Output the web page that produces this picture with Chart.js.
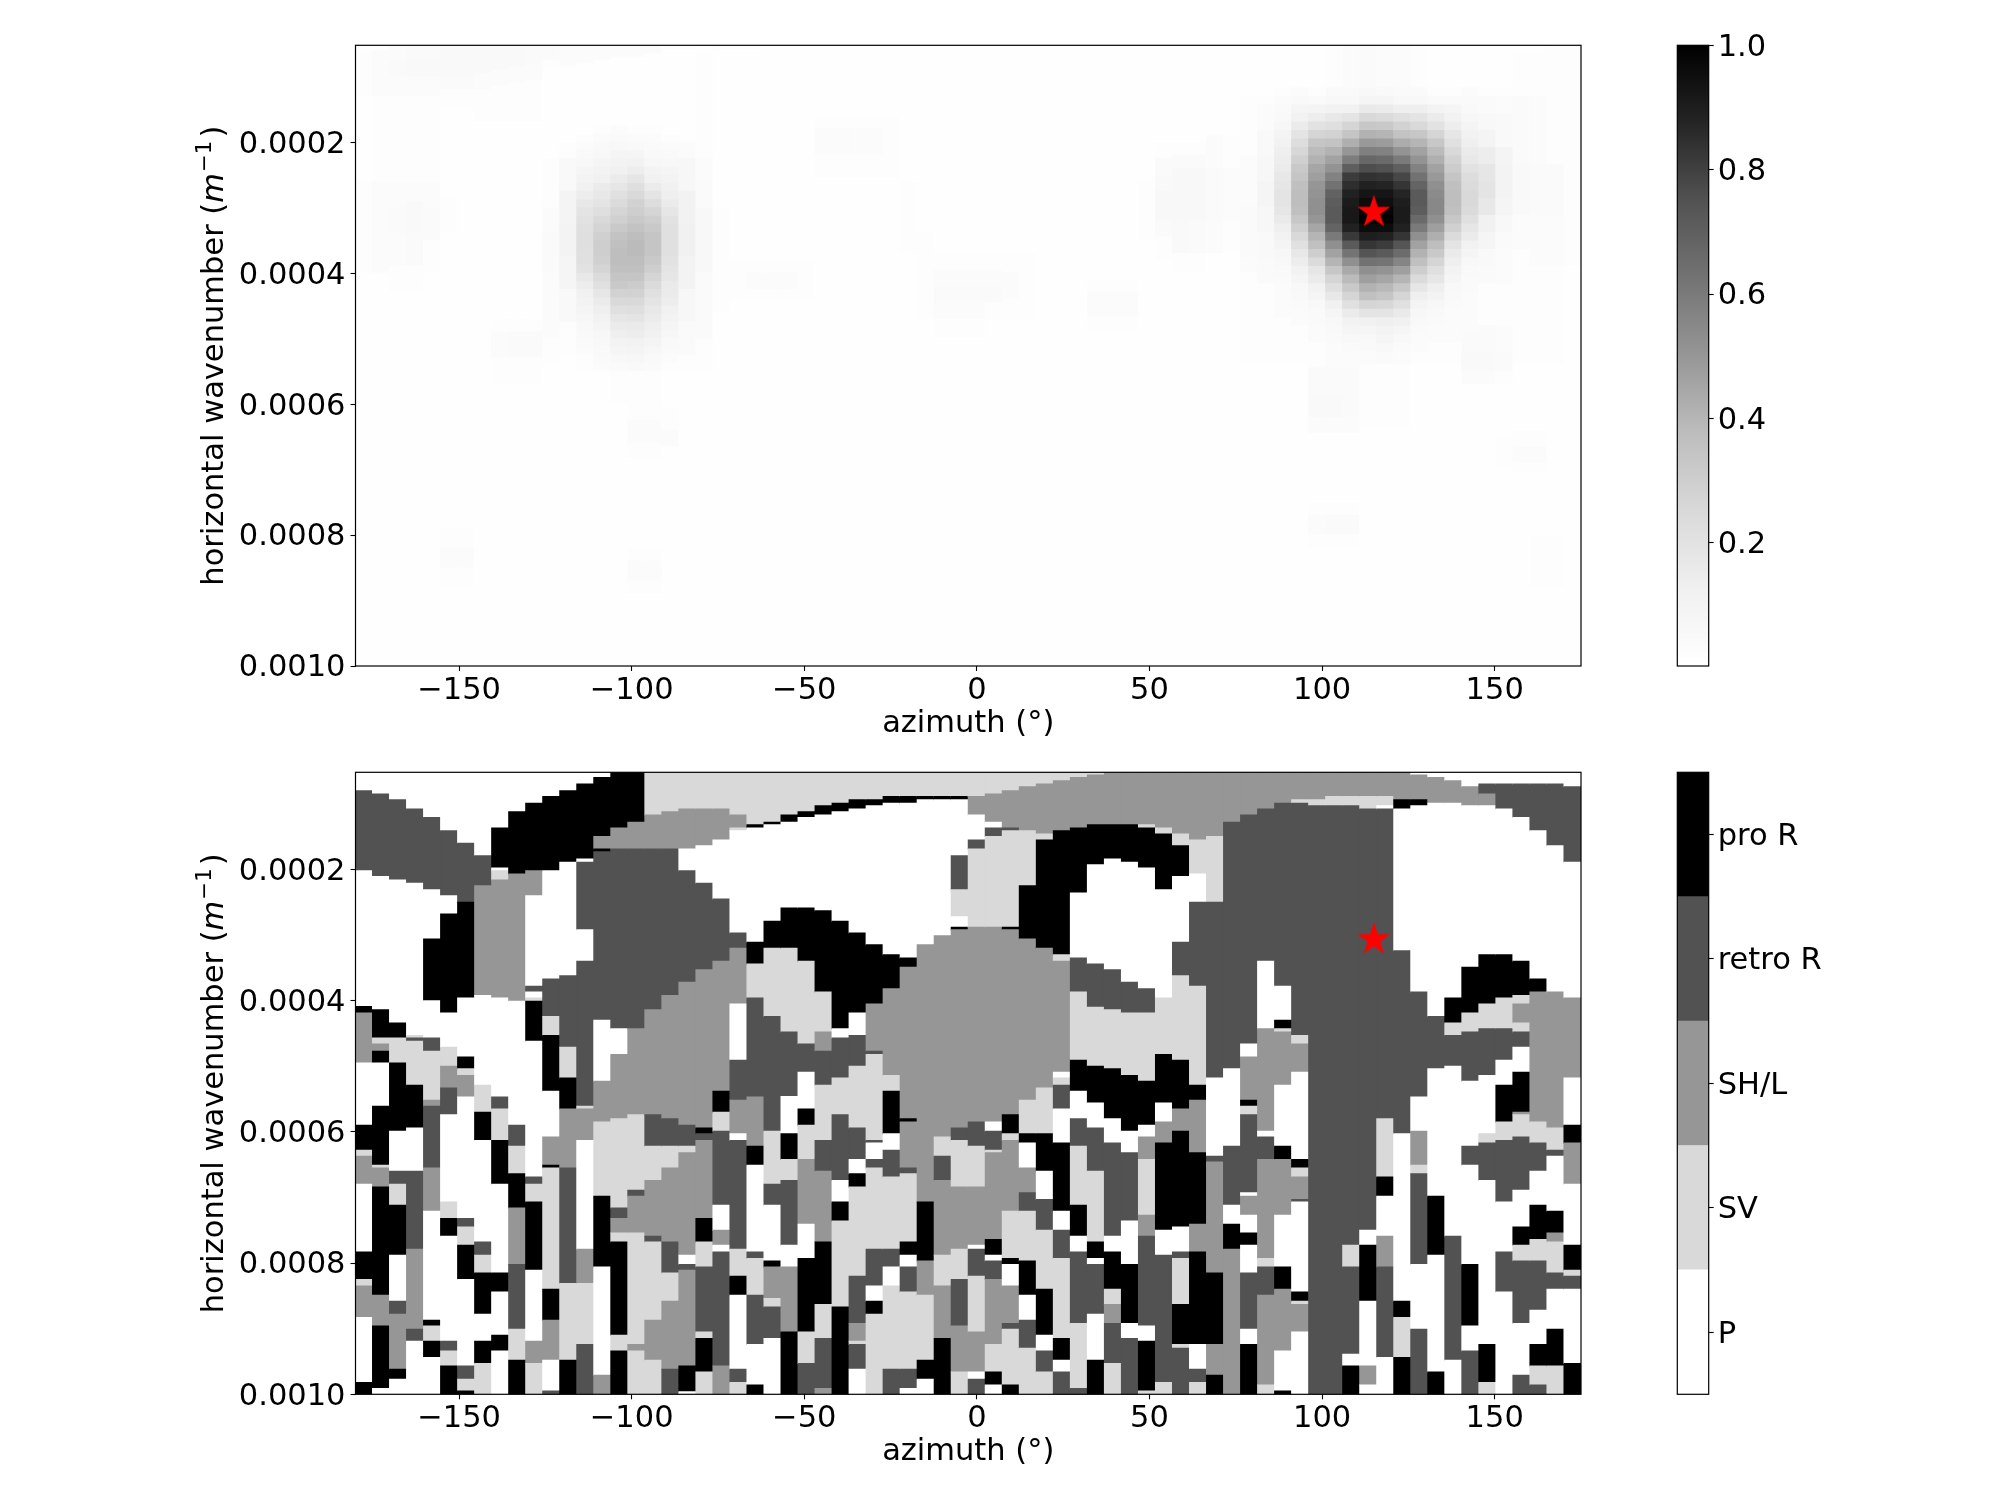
<!DOCTYPE html>
<html>
<head>
<meta charset="utf-8">
<script src="https://cdn.jsdelivr.net/npm/chart.js@4"></script>
<style>
  body { margin: 0; background: #fff; }
  canvas { position: absolute; }
</style>
</head>
<body>
<canvas id="heatChart" style="left:0;top:0" width="1640" height="760"></canvas>
<canvas id="heatBar" style="left:1640px;top:0" width="360" height="760"></canvas>
<canvas id="classChart" style="left:0;top:720px" width="1640" height="780"></canvas>
<canvas id="classBar" style="left:1640px;top:720px" width="360" height="780"></canvas>
<script>
const xTicks = [-150, -100, -50, 0, 50, 100, 150];
const yTicks = [0.0002, 0.0004, 0.0006, 0.0008, 0.001];
const heatBarTicks = [0.2, 0.4, 0.6, 0.8, 1.0];
const classNames = ['P', 'SV', 'SH/L', 'retro R', 'pro R'];
const classKeys = ['P', 'V', 'L', 'R', 'B'];
const classColors = ['#ffffff', '#d9d9d9', '#969696', '#525252', '#000000'];
const greys = ['#ffffff', '#f0f0f0', '#d9d9d9', '#bdbdbd', '#969696', '#737373', '#525252', '#252525', '#000000'];
const starAzimuth = 115;
const starWavenumber = 0.000307;

// azimuth range and wavenumber range of the image, wavenumbers below are in 1e-6 /m
const azMin = -180, azMax = 175, kTop = 52;

// normalised amplitude per azimuth column, "percent@end wavenumber"
const heatColumns = [
  '1@60 2@130 1@260 2@400 1@1000',
  '1@60 3@130 2@260 3@400 1@1000',
  '3@75 4@100 3@130 2@260 3@300 4@340 3@390 2@430 1@1000',
  '4@75 5@100 3@130 2@260 3@290 5@340 4@390 2@430 1@1000',
  '4@75 5@100 3@130 2@260 3@300 4@350 2@400 1@1000',
  '5@100 4@120 2@150 1@280 2@340 1@790 2@820 3@850 2@880 1@1000',
  '5@100 4@120 2@150 1@790 2@820 3@850 2@880 1@1000',
  '5@95 3@120 2@170 1@1000',
  '5@90 3@115 2@170 1@470 2@490 3@530 2@570 1@1000',
  '5@85 3@110 2@170 1@470 2@490 4@530 2@570 1@1000',
  '4@80 3@105 2@170 1@470 2@490 4@530 2@570 1@1000',
  '4@75 2@90 1@225 2@300 3@340 4@400 3@500 2@540 1@1000',
  '3@85 1@200 2@225 5@275 9@325 10@375 8@425 5@475 2@525 1@1000',
  '3@80 1@175 1@188 2@200 3@213 5@225 6@238 8@250 10@263 12@275 14@288 17@300 19@313 20@325 21@338 22@350 22@363 21@375 21@388 20@400 17@413 14@425 12@438 10@450 8@463 7@475 6@488 5@500 4@513 3@525 2@550 1@1000',
  '3@75 1@175 2@188 3@200 5@213 6@225 8@238 10@250 12@263 15@275 17@288 19@300 22@313 25@325 27@338 29@350 30@363 30@375 29@388 27@400 24@413 21@425 18@438 15@450 13@463 11@475 9@488 7@500 6@513 5@525 4@538 3@550 1@1000',
  '3@70 1@175 3@188 4@200 6@213 8@225 10@238 12@250 15@263 18@275 21@288 24@300 27@313 29@325 32@338 35@350 36@363 37@375 37@388 36@400 34@413 32@425 28@438 25@450 21@463 18@475 15@488 13@500 10@513 8@525 6@538 4@550 2@600 1@1000',
  '3@70 1@175 2@188 3@200 5@213 8@225 11@238 14@250 18@263 22@275 25@288 28@300 30@313 32@325 35@338 37@350 38@363 38@375 37@388 36@400 34@413 31@425 28@438 25@450 22@463 19@475 16@488 14@500 11@513 9@525 7@538 5@550 2@625 3@660 2@685 1@820 2@840 3@870 2@890 1@1000',
  '3@65 1@175 2@188 3@200 4@213 5@225 7@238 10@250 12@263 15@275 19@288 23@300 27@313 30@325 32@338 34@350 34@363 34@375 32@388 30@400 27@413 24@425 21@438 19@450 17@463 15@475 13@488 12@500 9@513 7@525 5@538 4@550 2@625 3@660 2@685 1@820 2@840 3@870 2@890 1@1000',
  '2@60 1@175 1@188 2@200 3@213 5@225 6@238 8@250 10@263 12@275 13@288 15@300 18@313 20@325 21@338 21@350 21@363 21@375 20@388 19@400 18@413 16@425 15@438 14@450 12@463 10@475 8@488 7@500 5@513 4@525 3@538 2@550 1@605 2@640 3@665 1@1000',
  '2@60 1@200 3@225 7@275 11@325 12@375 10@425 7@475 4@525 2@550 1@1000',
  '1@60 2@225 3@260 4@300 6@400 4@500 2@550 1@1000',
  '2@60 1@300 2@460 1@1000',
  '2@60 1@380 2@440 1@1000',
  '2@60 1@380 2@400 3@425 2@440 1@1000',
  '1@380 2@400 3@425 2@440 1@1000',
  '1@380 2@400 3@425 2@440 1@1000',
  '1@380 2@440 1@1000',
  '1@160 2@180 3@220 2@255 1@1000',
  '1@160 2@180 3@220 2@255 1@1000',
  '1@160 2@180 3@220 2@255 1@1000',
  '1@160 2@180 3@220 2@255 1@1000',
  '1@160 2@255 1@1000',
  '1@260 2@370 1@1000',
  '1@340 2@470 1@1000',
  '1@370 2@395 3@420 4@445 3@470 2@500 1@1000',
  '1@370 2@395 3@420 4@445 3@470 2@500 1@1000',
  '1@370 2@395 3@420 4@445 3@470 2@500 1@1000',
  '1@370 2@395 3@420 4@445 2@470 1@1000',
  '1@370 2@400 3@440 2@470 1@1000',
  '1@370 2@470 1@1000',
  '1@1000',
  '1@1000',
  '1@1000',
  '1@410 2@430 3@465 2@490 1@1000',
  '1@410 2@430 3@465 2@490 1@1000',
  '1@410 2@430 3@465 2@490 1@1000',
  '1@260 2@350 1@1000',
  '1@200 2@225 4@250 5@275 6@320 4@345 2@380 1@1000',
  '1@200 2@220 4@240 6@320 5@370 2@400 1@1000',
  '1@200 2@220 4@240 6@320 4@370 2@400 1@1000',
  '1@190 3@240 4@320 3@370 1@1000',
  '1@190 2@240 3@320 2@370 1@1000',
  '1@130 2@221 3@299 4@377 3@400 2@540 1@1000',
  '1@130 2@143 3@182 5@221 7@260 8@299 7@338 5@377 4@416 2@540 1@1000',
  '1@117 2@130 3@143 4@156 5@169 7@182 9@195 11@208 13@221 14@234 15@247 17@260 18@273 19@286 19@299 18@312 16@325 13@338 11@351 9@364 7@377 6@390 5@403 4@416 3@468 2@540 1@1000',
  '1@117 3@130 5@143 8@156 11@169 15@182 19@195 23@208 26@221 29@234 32@247 34@260 36@273 37@286 37@299 36@312 33@325 29@338 25@351 21@364 17@377 14@390 11@403 8@416 6@429 5@442 4@455 3@481 2@540 1@1000',
  '1@117 2@130 4@143 9@156 14@169 20@182 27@195 34@208 38@221 41@234 45@247 47@260 50@273 51@286 52@299 52@312 50@325 45@338 40@351 36@364 30@377 24@390 18@403 15@416 11@429 8@442 6@455 4@481 3@507 2@545 4@590 5@620 3@645 1@750 2@770 3@800 2@820 1@1000',
  '2@117 4@130 6@143 11@156 17@169 22@182 28@195 35@208 41@221 46@234 51@247 57@260 63@273 69@286 71@299 72@312 72@325 68@338 60@351 52@364 46@377 40@390 33@403 27@416 22@429 17@442 12@455 8@468 6@481 5@494 4@507 3@545 4@590 5@620 3@645 1@750 2@770 4@800 2@820 1@1000',
  '3@117 4@130 6@143 12@156 19@169 27@182 34@195 42@208 50@221 59@234 70@247 81@260 85@273 89@286 91@299 92@312 92@325 89@338 82@351 72@364 62@377 52@390 44@403 38@416 32@429 27@442 21@455 15@468 11@481 8@494 6@507 4@520 3@545 4@620 3@645 1@750 2@770 4@800 2@820 1@1000',
  '4@117 6@130 8@143 16@156 25@169 33@182 41@195 49@208 58@221 67@234 76@247 84@260 89@273 93@286 96@299 98@312 100@325 96@338 90@351 83@364 74@377 63@390 52@403 47@416 41@429 36@442 27@455 19@468 12@481 8@494 6@507 5@520 3@540 2@640 1@1000',
  '3@117 5@130 8@143 15@156 24@169 32@182 40@195 48@208 57@221 66@234 75@247 83@260 88@273 93@286 95@299 98@312 100@325 96@338 89@351 81@364 72@377 62@390 51@403 45@416 39@429 34@442 26@455 19@468 13@481 10@494 8@507 6@520 4@540 2@640 1@1000',
  '3@117 4@130 6@143 13@156 21@169 28@182 35@195 43@208 51@221 60@234 70@247 78@260 83@273 88@286 90@299 91@312 91@325 89@338 83@351 74@364 65@377 56@390 47@403 40@416 33@429 27@442 21@455 16@468 12@481 8@494 6@507 4@520 3@540 2@640 1@1000',
  '2@117 4@130 6@143 13@156 19@169 25@182 33@195 40@208 46@221 51@234 57@247 63@260 68@273 72@286 72@299 71@312 66@325 60@338 52@351 46@364 41@377 36@390 30@403 24@416 18@429 13@442 9@455 7@468 5@481 4@494 3@520 2@540 1@1000',
  '1@117 2@130 4@143 10@156 15@169 20@182 27@195 33@208 38@221 42@234 46@247 49@260 52@273 54@286 55@299 55@312 52@325 47@338 42@351 37@364 32@377 27@390 22@403 18@416 13@429 10@442 7@455 5@468 4@481 3@507 2@540 1@1000',
  '1@117 2@130 4@143 8@156 11@169 14@182 18@195 21@208 25@221 28@234 31@247 34@260 36@273 37@286 37@299 36@312 33@325 29@338 24@351 19@364 15@377 13@390 10@403 8@416 6@429 5@442 4@455 3@507 2@540 1@1000',
  '1@117 3@130 4@143 5@156 7@169 9@182 11@195 13@208 15@221 17@234 20@247 23@260 24@273 25@286 25@299 24@312 21@325 18@338 15@351 11@364 8@377 6@390 5@403 4@429 3@490 4@520 5@550 3@570 1@1000',
  '1@117 2@130 4@156 6@182 9@208 14@234 18@260 19@286 17@312 12@338 8@364 5@390 4@416 2@480 4@520 5@550 3@570 1@1000',
  '1@117 2@130 3@156 5@208 9@234 10@286 8@312 6@338 4@364 3@416 2@480 3@520 4@550 2@570 1@650 2@700 1@1000',
  '1@60 2@130 4@234 5@312 3@364 2@540 1@640 2@665 3@690 2@705 1@1000',
  '1@60 2@130 3@234 4@312 3@390 2@540 1@640 2@665 3@690 2@705 1@800 2@880 1@1000',
  '2@234 4@312 3@390 2@540 1@800 2@880 1@1000',
  '2@390 1@1000'
];

// class per azimuth column, "letter + end wavenumber"
const classColumns = [
  'P80 R202 P409 B419 L495 P590 B628 V637 L680 P783 B825 V835 L883 P982 B1000',
  'P85 R211 P414 B457 V466 L477 B495 P561 B651 V655 L684 B849 L896 B991 P1000',
  'P94 R216 P434 B457 V495 B599 P660 R680 V712 B788 P858 R878 L962 B977 P1000',
  'P108 R221 P453 V457 R462 V529 B594 P660 R779 L901 R919 P1000',
  'P121 R231 P306 B400 P457 R477 V552 L561 R655 L721 P887 B896 V919 B944 P1000',
  'P141 R240 P268 B419 P471 V500 L533 R574 P707 V732 B759 P919 R934 V957 B1000',
  'P160 R250 B396 P486 B504 V514 L547 P732 R745 V773 B825 P957 R977 V995 B1000',
  'P179 R225 L392 P529 V570 B613 P768 R788 V815 B878 P919 B953 V1000',
  'P137 B198 P202 V216 L396 P547 R565 V613 B680 P815 B844 P910 B934 P1000',
  'P112 B207 L401 P590 R622 V664 B716 L802 R901 V948 B1000',
  'P99 B202 L240 P378 R387 P396 V401 B462 P669 R680 V707 B811 P919 L953 V1000',
  'P89 B202 P367 R424 V453 B538 P608 L651 B655 V840 B887 L948 P995 R1000',
  'P80 B189 P362 R471 V518 B565 L655 R831 V948 B1000',
  'P70 B184 P189 R292 P340 R561 V565 L613 P779 L831 V924 R1000',
  'P60 B150 L169 B173 R430 P523 L585 V698 B806 P971 L1000',
  'B137 L169 R443 P482 L580 V716 R732 L754 V768 B910 V934 B1000',
  'B128 L169 R443 L574 V689 R698 L754 V924 L934 V1000',
  'V117 L169 R414 L574 R622 V674 L759 R768 V887 L948 V1000',
  'V112 L169 R392 L580 R622 V655 L768 R815 V858 L962 R1000',
  'V108 L169 P202 R372 L590 R622 V632 L788 P802 R811 L957 B996 P1000',
  'V108 L164 P221 R353 L594 B603 R613 L732 B768 V806 R905 V915 B966 V1000',
  'V108 L155 P245 R340 L538 B570 V599 R712 P750 L773 P783 R957 L1000',
  'V117 L137 V141 P297 R320 L405 P491 R552 L603 P613 R779 V820 B849 P962 R982 V1000',
  'V132 B137 P311 B344 V396 R547 L622 B651 P783 R793 V849 R924 P986 B1000',
  'V128 B132 P279 B320 V424 R599 V680 R712 P797 B806 L854 V867 R915 P1000',
  'V117 B128 P259 B320 V448 R546 P603 B642 V674 R773 P806 L905 B1000',
  'V112 B121 P259 B340 V466 R509 P565 B590 V642 L741 P793 B905 V953 R1000',
  'V103 B117 P263 B387 V448 L477 R529 V613 R660 L768 B863 V915 R991 L1000',
  'V99 B112 P279 B443 P457 R518 V574 R674 P707 B736 V867 B1000',
  'V94 B108 P297 B419 P453 R500 V594 R642 P664 B684 V820 R892 L919 V924 R962 P1000',
  'V94 B103 P315 B405 L477 R482 V613 R617 P642 R655 V779 R835 P858 B878 V1000',
  'V89 B99 P330 B382 L514 V538 B603 P628 R669 V779 R806 P835 V962 R1000',
  'V89 B99 P335 B349 L580 B585 L655 R664 V768 B788 P806 R844 V962 R991 P1000',
  'V89 B94 P315 L707 B797 L849 V948 B977 P1000',
  'V89 B94 P301 L608 V637 R674 L788 V835 L915 B1000',
  'V89 B94 P179 R231 V272 P288 B292 L594 R613 V684 L779 V825 R896 L966 V1000',
  'V89 L117 P155 R169 V288 L585 R622 V684 L773 P779 R820 V905 L966 P977 R1000',
  'V85 L128 P137 R150 V288 L585 P599 R628 V632 L764 B788 P797 R825 L924 V966 B986 P1000',
  'V80 L137 R141 V288 B292 L574 B603 V613 L721 V793 B802 P835 L892 R901 V986 B1000',
  'V74 L141 V225 B306 L552 V603 B617 P655 L693 R721 V797 B849 P887 R930 V1000',
  'V70 L146 V155 B320 L533 V603 B660 P703 R750 V840 B910 P934 R966 V1000',
  'V65 L141 B330 V340 L509 P518 V529 R565 P617 B721 P750 R793 V915 B948 P966 R1000',
  'V60 L137 B236 P335 R387 V491 B538 P580 R622 V712 B759 P783 R892 V991 R1000',
  'V56 L132 B193 P344 R410 V500 B556 P594 R660 V768 B793 P802 R878 P948 B1000',
  'L132 B184 P353 R414 V504 B580 P617 R759 P783 B840 V863 L892 R953 V1000',
  'L132 B189 P372 R419 V514 B599 P632 R736 P802 B892 P915 R1000',
  'L132 V137 B198 P382 R419 V523 B590 P608 L642 V727 L759 R896 P919 B995 V1000',
  'L137 V146 B231 P396 V482 B556 P585 L617 B750 P788 R982 V1000',
  'L146 V164 B211 P311 R362 V491 B565 L599 B745 P783 R793 V863 B924 V930 R1000',
  'L155 V207 P250 R378 V529 B552 L632 B741 L783 B924 P962 R982 V1000',
  'L150 V250 R518 P637 R646 L815 B924 L971 B1000',
  'L128 R504 P622 R712 P741 B779 L1000',
  'L117 R466 P486 L552 B561 V574 R693 P698 L727 P754 B773 P815 R901 P924 B1000',
  'L108 R340 P443 L599 P608 R642 L793 V806 R849 L986 V1000',
  'L99 R378 P430 B443 V448 L529 P622 B642 L727 P806 B840 L934 P995 B1000',
  'L94 V99 R453 V466 L509 P642 B655 V669 L703 R707 P844 B858 V863 L905 P1000',
  'L94 V103 R1000',
  'L89 V103 R1000',
  'L89 V103 R773 V806 R939 P957 B1000',
  'L89 V108 R750 P773 B858 P957 L986 P1000',
  'L89 V103 P108 R580 V669 B698 P759 L806 R944 P1000',
  'L94 B108 P324 R603 P858 B883 V944 B1000',
  'P56 L94 B103 P387 R547 P599 L651 V664 R802 P901 R1000',
  'P60 L99 P424 R504 P698 B788 P966 B1000',
  'P65 L99 P396 B434 V453 R500 P759 R948 P1000',
  'P74 L103 P349 B419 V448 R523 P622 R651 P802 B896 P934 R1000',
  'P70 R85 L103 P330 B405 V443 R514 P603 V617 R674 P924 B982 V1000',
  'P70 R108 P330 B396 V443 R491 P529 B585 V613 R707 P783 R844 P1000',
  'P70 R121 P340 B392 V405 L434 V448 R471 P509 B570 L574 V608 R689 P745 B773 V797 R892 P971 R1000',
  'P70 R141 P367 B387 L585 V617 R660 P712 B764 V797 R872 P924 B957 V986 R1000',
  'P70 R164 P387 L594 V628 R637 P721 B754 L768 V815 R840 P901 B957 V1000',
  'P74 R189 P396 L518 P590 B617 L680 P773 B811 V820 R840 P953 B1000'
];

const FONT = 'DejaVu Sans';
const FONT_SIZE = 30.5;

function columnCentre(i) {
  return azMin + (i + 0.5) * (azMax - azMin) / classColumns.length;
}

// colour of a normalised value on the Greys colormap
function greyFor(v) {
  const pos = Math.min(v, 1) * (greys.length - 1);
  const lo = Math.floor(pos);
  const hi = Math.min(lo + 1, greys.length - 1);
  const a = parseInt(greys[lo].slice(1, 3), 16);
  const b = parseInt(greys[hi].slice(1, 3), 16);
  const g = Math.round(a + (b - a) * (pos - lo));
  return `rgb(${g},${g},${g})`;
}

function heatCells() {
  const cells = [];
  heatColumns.forEach((col, i) => {
    let start = kTop;
    col.split(' ').forEach(run => {
      const [pct, end] = run.split('@').map(Number);
      cells.push({ x: columnCentre(i), y: [start * 1e-6, end * 1e-6], color: greyFor(pct / 100) });
      start = end;
    });
  });
  return cells;
}

function classCells() {
  const cells = [];
  classColumns.forEach((col, i) => {
    let start = kTop;
    col.split(' ').forEach(run => {
      const end = Number(run.slice(1));
      cells.push({ x: columnCentre(i), y: [start * 1e-6, end * 1e-6], color: classColors[classKeys.indexOf(run[0])] });
      start = end;
    });
  });
  return cells;
}

function starImage() {
  const R = 17.4;
  const c = document.createElement('canvas');
  c.width = 38;
  c.height = 38;
  const ctx = c.getContext('2d');
  ctx.fillStyle = '#ff0000';
  ctx.beginPath();
  for (let i = 0; i < 10; i++) {
    const r = i % 2 ? R * 0.382 : R;
    const a = -Math.PI / 2 + i * Math.PI / 5;
    ctx.lineTo(19 + r * Math.cos(a), 19 + r * Math.sin(a));
  }
  ctx.closePath();
  ctx.fill();
  return c;
}

// black box round the plot area, drawn over the cells
const framePlugin = {
  id: 'frame',
  afterDatasetsDraw(chart) {
    const { left, top, width, height } = chart.chartArea;
    const ctx = chart.ctx;
    ctx.save();
    ctx.strokeStyle = '#000';
    ctx.lineWidth = 1.2;
    ctx.strokeRect(left, top, width, height);
    ctx.restore();
  }
};

// y axis title has an italic m and a superscript, so it is set by hand
const yTitlePlugin = {
  id: 'yTitle',
  afterDraw(chart) {
    const ctx = chart.ctx;
    const spans = [
      { text: 'horizontal wavenumber (', font: `${FONT_SIZE}px "${FONT}"`, rise: 0, gap: 0 },
      { text: 'm', font: `italic ${FONT_SIZE}px "${FONT}"`, rise: 0, gap: 1 },
      { text: '\u22121', font: `${FONT_SIZE * 0.7}px "${FONT}"`, rise: 12, gap: 3 },
      { text: ')', font: `${FONT_SIZE}px "${FONT}"`, rise: 0, gap: 0 }
    ];
    let total = 0;
    spans.forEach(s => {
      ctx.font = s.font;
      s.w = ctx.measureText(s.text).width + s.gap;
      total += s.w;
    });
    const area = chart.chartArea;
    ctx.save();
    ctx.translate(223, (area.top + area.bottom) / 2);
    ctx.rotate(-Math.PI / 2);
    ctx.fillStyle = '#000';
    ctx.textBaseline = 'alphabetic';
    ctx.textAlign = 'left';
    let x = -total / 2;
    spans.forEach(s => {
      ctx.font = s.font;
      ctx.fillText(s.text, x, -s.rise);
      x += s.w;
    });
    ctx.restore();
  }
};

function tickStyle() {
  return { display: true, offset: false, drawOnChartArea: false, drawTicks: true, tickLength: 5, tickWidth: 1.1, tickColor: '#000' };
}

function drawMain(id, cells, box) {
  new Chart(document.getElementById(id), {
    type: 'bar',
    data: {
      datasets: [
        {
          type: 'scatter',
          order: 0,
          data: [{ x: starAzimuth, y: starWavenumber }],
          pointStyle: starImage(),
          pointRadius: 19
        },
        {
          order: 1,
          data: cells,
          backgroundColor: cells.map(c => c.color),
          borderWidth: 0,
          inflateAmount: 0.5,
          barPercentage: 1,
          categoryPercentage: 1
        }
      ]
    },
    options: {
      responsive: false,
      animation: false,
      devicePixelRatio: 1,
      layout: { padding: { top: box.top, right: box.right, left: 0, bottom: 0 } },
      plugins: { legend: { display: false }, tooltip: { enabled: false } },
      scales: {
        x: {
          type: 'linear',
          offset: false,
          min: azMin,
          max: azMax,
          afterBuildTicks: s => { s.ticks = xTicks.map(v => ({ value: v })); },
          afterFit: s => { s.height = box.bottom; },
          grid: tickStyle(),
          border: { display: false },
          ticks: {
            color: '#000',
            maxRotation: 0,
            padding: 1.5,
            font: { family: FONT, size: FONT_SIZE },
            callback: v => String(v).replace('-', '\u2212')
          },
          title: {
            display: true,
            text: 'azimuth (\u00b0)',
            color: '#000',
            font: { family: FONT, size: FONT_SIZE },
            padding: { top: 0, bottom: box.titlePad }
          }
        },
        y: {
          type: 'linear',
          reverse: true,
          min: kTop * 1e-6,
          max: 0.001,
          afterBuildTicks: s => { s.ticks = yTicks.map(v => ({ value: v })); },
          afterFit: s => { s.width = 355.5; },
          grid: tickStyle(),
          border: { display: false },
          ticks: {
            color: '#000',
            padding: 5,
            labelOffset: 2.5,
            font: { family: FONT, size: FONT_SIZE },
            callback: v => v.toFixed(4)
          }
        }
      }
    },
    plugins: [framePlugin, yTitlePlugin]
  });
}

function colorbarOptions(box, ticks, label, yMin, yMax) {
  return {
    responsive: false,
    animation: false,
    devicePixelRatio: 1,
    layout: { padding: { top: box.top, bottom: box.bottom, left: 37.3, right: 0 } },
    plugins: { legend: { display: false }, tooltip: { enabled: false } },
    scales: {
      x: { type: 'category', display: false },
      y: {
        position: 'right',
        min: yMin,
        max: yMax,
        afterBuildTicks: s => { s.ticks = ticks.map(v => ({ value: v })); },
        afterFit: s => { s.width = 360 - 37.3 - 31.4; },
        grid: tickStyle(),
        border: { display: false },
        ticks: {
          color: '#000',
          padding: 4,
          labelOffset: 2.5,
          font: { family: FONT, size: FONT_SIZE },
          callback: label
        }
      }
    }
  };
}

function drawHeatBar(box) {
  new Chart(document.getElementById('heatBar'), {
    type: 'bar',
    data: {
      labels: [''],
      datasets: [{
        data: [[0.002, 1]],
        barPercentage: 1,
        categoryPercentage: 1,
        borderWidth: 0,
        backgroundColor: ctx => {
          const { chart } = ctx;
          if (!chart.chartArea) return '#888';
          const g = chart.ctx.createLinearGradient(0, chart.chartArea.bottom, 0, chart.chartArea.top);
          greys.forEach((c, i) => g.addColorStop(i / (greys.length - 1), c));
          return g;
        }
      }]
    },
    options: colorbarOptions(box, heatBarTicks, v => v.toFixed(1), 0.002, 1),
    plugins: [framePlugin]
  });
}

function drawClassBar(box) {
  new Chart(document.getElementById('classBar'), {
    type: 'bar',
    data: {
      labels: [''],
      datasets: classNames.map((name, i) => ({
        label: name,
        data: [[i, i + 1]],
        grouped: false,
        barPercentage: 1,
        categoryPercentage: 1,
        borderWidth: 0,
        backgroundColor: classColors[i]
      }))
    },
    options: colorbarOptions(box, classNames.map((n, i) => i + 0.5), v => classNames[Math.floor(v)], 0, 5),
    plugins: [framePlugin]
  });
}

drawMain('heatChart', heatCells(), { top: 45.3, right: 59, bottom: 94, titlePad: 17.5 });
drawMain('classChart', classCells(), { top: 52.3, right: 59, bottom: 105.7, titlePad: 29.5 });
drawHeatBar({ top: 45.3, bottom: 94 });
drawClassBar({ top: 52.3, bottom: 105.7 });
</script>
</body>
</html>
